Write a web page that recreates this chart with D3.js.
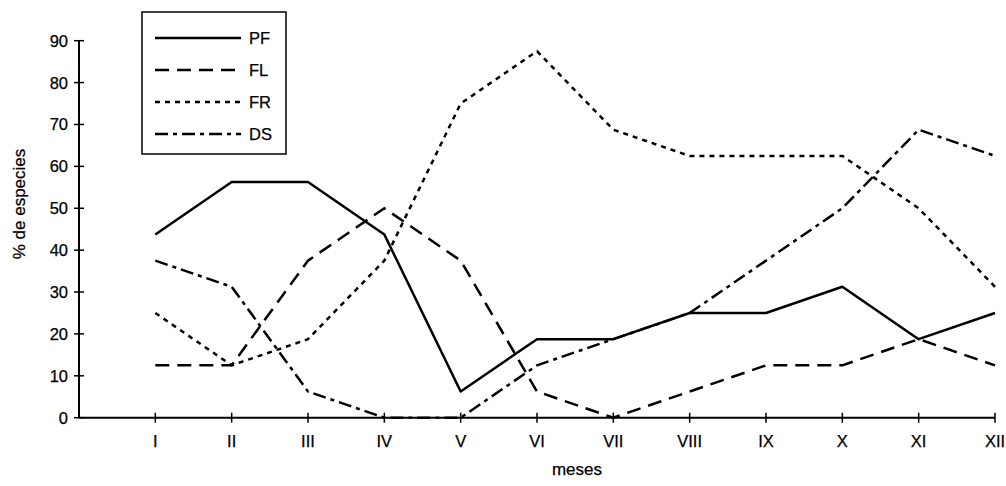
<!DOCTYPE html>
<html><head><meta charset="utf-8">
<script src="https://cdn.jsdelivr.net/npm/d3@7"></script>
<style>body{margin:0;background:#fff}svg{display:block}text{font-family:"Liberation Sans",Arial,sans-serif;fill:#000;stroke:#000;stroke-width:0.25px}</style>
</head><body><svg id="c" width="1006" height="486"></svg>
<script>
const months = ["I","II","III","IV","V","VI","VII","VIII","IX","X","XI","XII"];
const yTicks = [0,10,20,30,40,50,60,70,80,90];
const seriesNames = ["PF","FL","FR","DS"];
const PF = [43.75,56.25,56.25,43.75,6.25,18.75,18.75,25,25,31.25,18.75,25];
const FL = [12.5,12.5,37.5,50,37.5,6.25,0,6.25,12.5,12.5,18.75,12.5];
const FR = [25,12.5,18.75,37.5,75,87.5,68.75,62.5,62.5,62.5,50,31.25];
const DS = [37.5,31.25,6.25,0,0,12.5,18.75,25,37.5,50,68.75,62.5];
const dashes = {PF:null, FL:"14,8", FR:"5,5", DS:"13,5,4,5"};
const data = {PF, FL, FR, DS};

const svg = d3.select("#c");
const x = d3.scaleLinear().domain([0,12]).range([79,995]);
const y = d3.scaleLinear().domain([0,90]).range([417.7,40.7]);

// y axis
const ya = svg.append("g");
ya.append("line").attr("x1",x(0)).attr("x2",x(0)).attr("y1",y(90)).attr("y2",y(0)).attr("stroke","#000").attr("stroke-width",2);
yTicks.forEach(t=>{
  ya.append("line").attr("x1",x(0)-5).attr("x2",x(0)+5).attr("y1",y(t)).attr("y2",y(t)).attr("stroke","#000").attr("stroke-width",1.5);
  ya.append("text").attr("x",x(0)-11).attr("y",y(t)+6).attr("text-anchor","end").attr("font-size",16.5).text(t);
});
// x axis
const xa = svg.append("g");
xa.append("line").attr("x1",x(0)).attr("x2",x(12)).attr("y1",y(0)).attr("y2",y(0)).attr("stroke","#000").attr("stroke-width",2);
months.forEach((m,i)=>{
  xa.append("line").attr("x1",x(i+1)).attr("x2",x(i+1)).attr("y1",y(0)-5).attr("y2",y(0)+5).attr("stroke","#000").attr("stroke-width",1.5);
  xa.append("text").attr("x",x(i+1)).attr("y",447).attr("text-anchor","middle").attr("font-size",16.5).text(m);
});

// lines
const line = d3.line().x((d,i)=>x(i+1)).y(d=>y(d));
seriesNames.forEach(n=>{
  svg.append("path").attr("d",line(data[n])).attr("fill","none").attr("stroke","#000")
    .attr("stroke-width",2.5).attr("stroke-linejoin","round")
    .attr("stroke-dasharray",dashes[n]);
});

// axis titles
svg.append("text").attr("transform","translate(25,204) rotate(-90)").attr("text-anchor","middle").attr("font-size",17).text("% de especies");
svg.append("text").attr("x",577).attr("y",475).attr("text-anchor","middle").attr("font-size",17).text("meses");

// legend
const lg = svg.append("g");
lg.append("rect").attr("x",142).attr("y",12).attr("width",144).attr("height",142).attr("fill","#fff").attr("stroke","#000").attr("stroke-width",1.5);
seriesNames.forEach((n,i)=>{
  const ly = 38 + i*32;
  lg.append("line").attr("x1",155).attr("x2",241).attr("y1",ly).attr("y2",ly).attr("stroke","#000").attr("stroke-width",2.5).attr("stroke-dasharray",dashes[n]);
  lg.append("text").attr("x",249).attr("y",ly+6).attr("font-size",16.5).text(n);
});
</script></body></html>
